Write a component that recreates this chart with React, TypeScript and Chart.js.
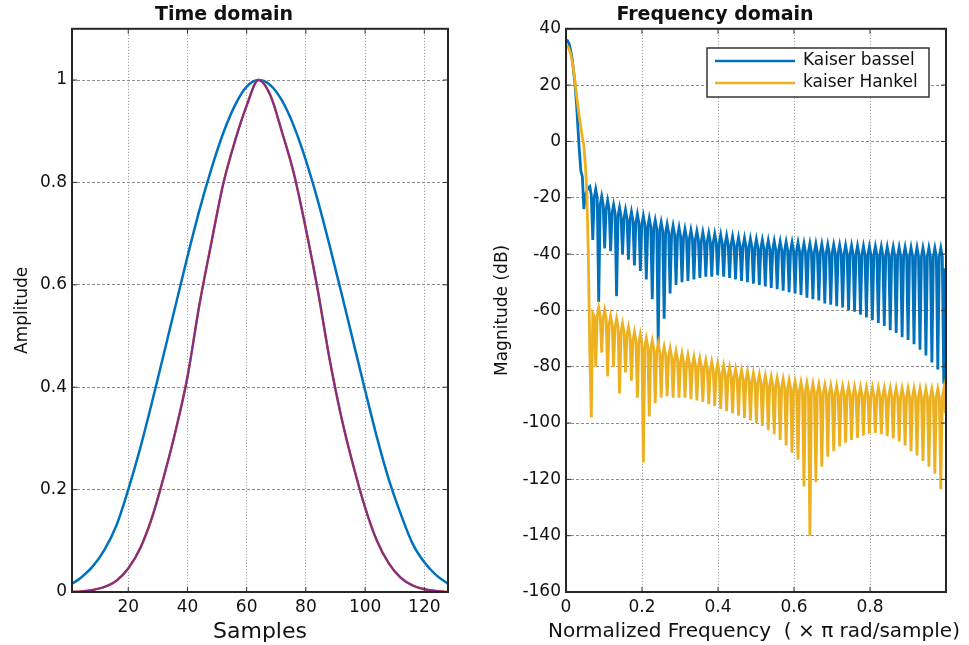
import React, { useEffect, useRef } from "react";
import { Chart, registerables } from "chart.js";

Chart.register(...registerables);

const FONT = "'DejaVu Sans', sans-serif";
const TEXT = "#111111";

// ---- Time domain ----
const timeSamples = [1, 4, 8, 12, 16, 20, 24, 28, 32, 36, 40, 44, 48, 52, 56, 60, 64, 68, 72, 76, 80, 84, 88, 92, 96, 100, 104, 108, 112, 116, 120, 124, 128];
const kaiserBesselTime = [0.016, 0.028, 0.05, 0.083, 0.13, 0.2, 0.28, 0.37, 0.465, 0.56, 0.655, 0.745, 0.825, 0.895, 0.95, 0.987, 1.0, 0.99, 0.959, 0.909, 0.843, 0.765, 0.677, 0.584, 0.489, 0.394, 0.302, 0.22, 0.153, 0.095, 0.058, 0.033, 0.016];
const kaiserHankelTime = [0.0, 0.001, 0.004, 0.01, 0.022, 0.046, 0.085, 0.145, 0.225, 0.315, 0.42, 0.56, 0.68, 0.795, 0.88, 0.95, 1.0, 0.97, 0.897, 0.816, 0.709, 0.59, 0.455, 0.341, 0.247, 0.165, 0.1, 0.056, 0.028, 0.013, 0.0055, 0.002, 0.0];

// ---- Frequency domain (one value per frequency bin, 256 bins over 0..1 x pi rad/sample) ----
const FREQ_BINS = 256;
const freqTickLabels = ["0", "0.2", "0.4", "0.6", "0.8"];
const freqAxisTitle = "Normalized Frequency  ( \u00D7 \u03C0 rad/sample)";

const kaiserBesselDb = [
  36, 35.8, 34.8, 32.6, 29.8, 25.5, 20.5, 14, 5, -3.5, -10.5, -12.5, -24, -19, -17.5, -16.5,
  -16, -19, -35, -20, -17, -20, -57, -22.5, -19.5, -22.5, -38, -24, -21, -24, -39, -25.5,
  -22.5, -25.5, -55, -26.5, -23.5, -26.5, -40, -27.3, -24.3, -27.3, -42, -28, -25, -28, -44, -28.8,
  -25.8, -28.8, -46, -29.5, -26.5, -29.5, -49, -30.3, -27.3, -30.3, -56, -31, -28, -31, -72, -31.7,
  -28.7, -31.7, -63, -32.4, -29.4, -32.4, -54, -33, -30, -33, -51, -33.6, -30.6, -33.6, -50, -34.1,
  -31.1, -34.1, -49.5, -34.5, -31.5, -34.5, -49, -34.9, -31.9, -34.9, -48.5, -35.3, -32.3, -35.3, -48, -35.6,
  -32.6, -35.6, -48, -35.9, -32.9, -35.9, -47.5, -36.2, -33.2, -36.2, -48, -36.5, -33.5, -36.5, -48.5, -36.8,
  -33.8, -36.8, -49, -37.1, -34.1, -37.1, -49.5, -37.3, -34.3, -37.3, -50, -37.6, -34.6, -37.6, -50.5, -37.8,
  -34.8, -37.8, -51, -38, -35, -38, -51.5, -38.2, -35.2, -38.2, -52, -38.4, -35.4, -38.4, -52.5, -38.6,
  -35.6, -38.6, -53, -38.7, -35.7, -38.7, -53.5, -38.9, -35.9, -38.9, -54, -39, -36, -39, -54.5, -39.2,
  -36.2, -39.2, -55.5, -39.3, -36.3, -39.3, -56, -39.4, -36.4, -39.4, -56.5, -39.5, -36.5, -39.5, -57.5, -39.6,
  -36.6, -39.6, -58, -39.7, -36.7, -39.7, -58.5, -39.8, -36.8, -39.8, -59, -39.9, -36.9, -39.9, -60, -40,
  -37, -40, -60.5, -40.1, -37.1, -40.1, -61.5, -40.2, -37.2, -40.2, -62.5, -40.3, -37.3, -40.3, -63.5, -40.3,
  -37.3, -40.3, -64.5, -40.4, -37.4, -40.4, -65.5, -40.5, -37.5, -40.5, -67, -40.5, -37.5, -40.5, -68, -40.6,
  -37.6, -40.6, -69.5, -40.6, -37.6, -40.6, -70.5, -40.7, -37.7, -40.7, -72, -40.7, -37.7, -40.7, -74, -40.8,
  -37.8, -40.8, -76, -40.8, -37.8, -40.8, -78.5, -40.9, -37.9, -40.9, -81, -40.9, -37.9, -40.9, -86, -45,
];

const kaiserHankelDb = [
  34, 33.8, 33, 31.3, 29, 25.8, 21.5, 17, 12.5, 8.5, 5, 1.5, -1.5, -8, -18, -40,
  -75, -98, -61, -62, -80, -62, -59, -62, -75, -63, -60, -63, -83.5, -65, -62, -65,
  -80, -66, -63, -66, -89.5, -67.7, -64.7, -67.7, -82, -69, -66, -69, -85, -70.7, -67.7, -70.7,
  -91, -71.5, -68.5, -71.5, -114, -73, -70, -73, -97.7, -73.8, -70.8, -73.8, -93, -74.8, -71.8, -74.8,
  -91, -76, -73, -76, -90.5, -76.5, -73.5, -76.5, -91, -77.5, -74.5, -77.5, -91, -78.3, -75.3, -78.3,
  -91, -78.9, -75.9, -78.9, -91.5, -79.5, -76.5, -79.5, -92, -80.1, -77.1, -80.1, -92.5, -80.7, -77.7, -80.7,
  -93.3, -81.3, -78.3, -81.3, -94, -82, -79, -82, -95, -82.6, -79.6, -82.6, -95.8, -83.2, -80.2, -83.2,
  -96.6, -83.8, -80.8, -83.8, -97.4, -84.3, -81.3, -84.3, -98.2, -84.8, -81.8, -84.8, -99.1, -85.3, -82.3, -85.3,
  -100, -85.8, -82.8, -85.8, -101, -86.2, -83.2, -86.2, -102.5, -86.6, -83.6, -86.6, -104, -87, -84, -87,
  -106, -87.4, -84.4, -87.4, -108, -87.8, -84.8, -87.8, -110.5, -88.2, -85.2, -88.2, -113, -88.5, -85.5, -88.5,
  -122.5, -88.8, -85.8, -88.8, -140, -89.1, -86.1, -89.1, -121, -89.3, -86.3, -89.3, -115.5, -89.5, -86.5, -89.5,
  -112, -89.7, -86.7, -89.7, -110, -89.9, -86.9, -89.9, -108.3, -90, -87, -90, -107, -90.1, -87.1, -90.1,
  -106, -90.2, -87.2, -90.2, -105.3, -90.3, -87.3, -90.3, -104.5, -90.4, -87.4, -90.4, -103.8, -90.5, -87.5, -90.5,
  -103.5, -90.5, -87.5, -90.5, -104, -90.6, -87.6, -90.6, -104.7, -90.6, -87.6, -90.6, -105.5, -90.7, -87.7, -90.7,
  -106.5, -90.7, -87.7, -90.7, -108, -90.8, -87.8, -90.8, -110, -90.8, -87.8, -90.8, -111.5, -90.8, -87.8, -90.8,
  -113.5, -90.9, -87.9, -90.9, -115.5, -90.9, -87.9, -90.9, -118, -90.9, -87.9, -90.9, -123.5, -91, -88, -96.5,
];

const seriesNames = ["Kaiser bassel", "kaiser Hankel"];
const BLUE = "#0072BD";
const YELLOW = "#EDB120";
const PURPLE = "#7E2F8E";
const ORANGE = "#D95319";

const boxPlugin = {
  id: "axesBox",
  afterDatasetsDraw(chart: any) {
    const { ctx, chartArea: a, scales } = chart;
    ctx.save();
    ctx.strokeStyle = "#333333";
    ctx.lineWidth = 1;
    ctx.beginPath();
    scales.x.ticks.forEach((t: any) => {
      const px = scales.x.getPixelForValue(t.value);
      ctx.moveTo(px, a.bottom);
      ctx.lineTo(px, a.bottom - 5);
      ctx.moveTo(px, a.top);
      ctx.lineTo(px, a.top + 5);
    });
    scales.y.ticks.forEach((t: any) => {
      const py = scales.y.getPixelForValue(t.value);
      ctx.moveTo(a.left, py);
      ctx.lineTo(a.left + 5, py);
      ctx.moveTo(a.right, py);
      ctx.lineTo(a.right - 5, py);
    });
    ctx.stroke();
    ctx.strokeStyle = "#262626";
    ctx.lineWidth = 2;
    ctx.strokeRect(a.left, a.top, a.right - a.left, a.bottom - a.top);
    ctx.restore();
  },
};

// x-axis title that may extend beyond the plot width (Chart.js would squeeze it)
const wideXTitlePlugin = {
  id: "wideXTitle",
  afterDraw(chart: any, _args: any, opts: any) {
    const { ctx, chartArea: a } = chart;
    ctx.save();
    ctx.font = `${opts.size}px ${FONT}`;
    ctx.fillStyle = TEXT;
    ctx.textAlign = "center";
    ctx.textBaseline = "middle";
    ctx.fillText(opts.text, (a.left + a.right) / 2 + (opts.dx || 0), opts.y);
    ctx.restore();
  },
};

const legendBoxPlugin = {
  id: "legendBox",
  afterDraw(chart: any) {
    const { ctx } = chart;
    const x0 = 223, y0 = 48, w = 222, h = 49;
    ctx.save();
    ctx.fillStyle = "#ffffff";
    ctx.fillRect(x0, y0, w, h);
    ctx.strokeStyle = "#333333";
    ctx.lineWidth = 1.5;
    ctx.strokeRect(x0, y0, w, h);
    ctx.font = `17px ${FONT}`;
    ctx.textBaseline = "middle";
    ctx.textAlign = "left";
    chart.data.datasets.forEach((ds: any, i: number) => {
      const y = y0 + 13 + i * 22;
      ctx.strokeStyle = ds.borderColor;
      ctx.lineWidth = 2.5;
      ctx.beginPath();
      ctx.moveTo(x0 + 8, y);
      ctx.lineTo(x0 + 88, y);
      ctx.stroke();
      ctx.fillStyle = TEXT;
      ctx.fillText(ds.label, x0 + 96, y);
    });
    ctx.restore();
  },
};

function tickFont() {
  return { family: FONT, size: 17 };
}

const gridOpts = { color: "#8c8c8c", drawTicks: false, lineWidth: 1 };

function App() {
  const leftRef = useRef<HTMLCanvasElement | null>(null);
  const rightRef = useRef<HTMLCanvasElement | null>(null);

  useEffect(() => {
    Chart.defaults.font.family = FONT;
    Chart.defaults.color = TEXT;

    const left = new Chart(leftRef.current as HTMLCanvasElement, {
      type: "line",
      data: {
        datasets: [
          {
            label: "Kaiser bassel",
            data: timeSamples.map((x, i) => ({ x, y: kaiserBesselTime[i] })),
            borderColor: BLUE,
            borderWidth: 2.5,
            pointRadius: 0,
            cubicInterpolationMode: "monotone",
            order: 3,
          },
          {
            label: "kaiser Hankel (edge)",
            data: timeSamples.map((x, i) => ({ x, y: kaiserHankelTime[i] })),
            borderColor: ORANGE,
            borderWidth: 2.5,
            pointRadius: 0,
            cubicInterpolationMode: "monotone",
            order: 2,
          },
          {
            label: "kaiser Hankel",
            data: timeSamples.map((x, i) => ({ x, y: kaiserHankelTime[i] })),
            borderColor: PURPLE,
            borderWidth: 2,
            pointRadius: 0,
            cubicInterpolationMode: "monotone",
            order: 1,
          },
        ],
      },
      options: {
        animation: false,
        responsive: false,
        maintainAspectRatio: false,
        layout: { padding: { left: 0, right: 36, top: 0, bottom: 0 } },
        plugins: {
          legend: { display: false },
          tooltip: { enabled: false },
          title: {
            display: true,
            text: "Time domain",
            color: "#111111",
            font: { family: FONT, size: 19, weight: "bold" },
            padding: { top: 4, bottom: 2 },
          },
        },
        scales: {
          x: {
            type: "linear",
            min: 1,
            max: 128,
            ticks: { stepSize: 20, includeBounds: false, font: tickFont(), color: TEXT, padding: 5 },
            grid: gridOpts,
            border: { display: false, dash: [1, 2] },
            title: { display: true, text: "Samples", color: TEXT, font: { family: FONT, size: 22 }, padding: { top: 0, bottom: 0 } },
            afterFit: (s: any) => { s.height = 53; },
          },
          y: {
            type: "linear",
            min: 0,
            max: 1.1,
            ticks: {
              stepSize: 0.2,
              includeBounds: false,
              font: tickFont(),
              color: TEXT,
              padding: 5,
              callback: (v: any) => String(Math.round(Number(v) * 10) / 10),
            },
            grid: gridOpts,
            border: { display: false, dash: [3, 2] },
            title: { display: true, text: "Amplitude", color: TEXT, font: { family: FONT, size: 17 }, padding: { top: 12, bottom: 0 } },
            afterFit: (s: any) => { s.width = 72; },
          },
        },
      },
      plugins: [boxPlugin],
    } as any);

    const right = new Chart(rightRef.current as HTMLCanvasElement, {
      type: "line",
      data: {
        datasets: [
          {
            label: seriesNames[0],
            data: kaiserBesselDb.map((y, i) => ({ x: i, y })),
            borderColor: BLUE,
            borderWidth: 2.8,
            pointRadius: 0,
            tension: 0,
            order: 2,
          },
          {
            label: seriesNames[1],
            data: kaiserHankelDb.map((y, i) => ({ x: i, y })),
            borderColor: YELLOW,
            borderWidth: 2.8,
            pointRadius: 0,
            tension: 0,
            order: 1,
          },
        ],
      },
      options: {
        animation: false,
        responsive: false,
        maintainAspectRatio: false,
        layout: { padding: { left: 0, right: 23, top: 0, bottom: 0 } },
        plugins: {
          legend: { display: false },
          tooltip: { enabled: false },
          title: {
            display: true,
            text: "Frequency domain",
            color: "#111111",
            font: { family: FONT, size: 19, weight: "bold" },
            padding: { top: 4, bottom: 2 },
          },
          wideXTitle: { text: freqAxisTitle, size: 20, y: 632, dx: -2 },
        },
        scales: {
          x: {
            type: "linear",
            min: 0,
            max: FREQ_BINS - 0.5,
            ticks: {
              stepSize: FREQ_BINS / 5,
              includeBounds: false,
              font: tickFont(),
              color: TEXT,
              padding: 5,
              callback: (v: any) => freqTickLabels[Math.round(Number(v) / (FREQ_BINS / 5))] ?? "",
            },
            grid: gridOpts,
            border: { display: false, dash: [1, 2] },
            title: { display: false },
            afterFit: (s: any) => { s.height = 53; },
          },
          y: {
            type: "linear",
            min: -160,
            max: 40,
            ticks: { stepSize: 20, includeBounds: false, font: tickFont(), color: TEXT, padding: 5 },
            grid: gridOpts,
            border: { display: false, dash: [3, 2] },
            title: { display: true, text: "Magnitude (dB)", color: TEXT, font: { family: FONT, size: 17 }, padding: { top: 8, bottom: 0 } },
            afterFit: (s: any) => { s.width = 82; },
          },
        },
      },
      plugins: [boxPlugin, legendBoxPlugin, wideXTitlePlugin],
    } as any);

    return () => {
      left.destroy();
      right.destroy();
    };
  }, []);

  return (
    <div style={{ position: "absolute", left: 0, top: 0, width: 969, height: 645, background: "#ffffff" }}>
      <canvas ref={leftRef} width={484} height={645} style={{ position: "absolute", left: 0, top: 0, width: 484, height: 645 }} />
      <canvas ref={rightRef} width={485} height={645} style={{ position: "absolute", left: 484, top: 0, width: 485, height: 645 }} />
    </div>
  );
}

export default App;
